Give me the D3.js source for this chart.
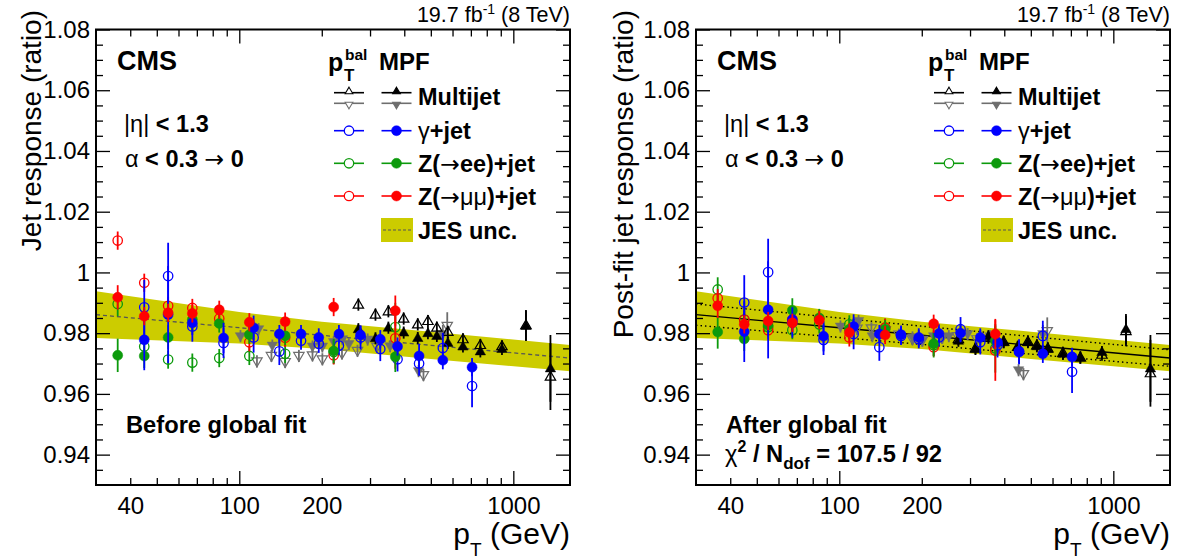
<!DOCTYPE html>
<html><head><meta charset="utf-8">
<script src="https://cdn.jsdelivr.net/npm/d3@7"></script>
<style>
body{margin:0;background:#fff}
svg{display:block;font-family:"Liberation Sans",Arial,Helvetica,sans-serif}
</style>
</head><body>
<svg id="c" width="1181" height="560"></svg>
<script>
// ---------------- x positions (GeV) ----------------
const ptGamma = [45, 55, 67.4, 87.6, 112.8, 140, 168, 195, 231, 277, 327, 378, 453, 553, 707];
const ptZ = [36, 45, 55, 67.4, 84.5, 108.8, 147, 221, 371];
const ptMJ = [272, 314, 350, 398, 448, 488, 526, 577, 655, 758, 909, 1112, 1366];
const ptMJ2Mpf = [101, 117.6, 132, 185, 201, 221, 238, 251, 294, 355, 451, 553];
const ptMJ2Bal = [116, 131, 147, 165, 185, 201, 237, 270, 318, 470, 574];

// ---------------- before global fit ----------------
const gammaMpfBefore = [0.9778, 0.9861, 0.9834, 0.9784, 0.9818, 0.9797, 0.9797, 0.9786, 0.9797, 0.9794, 0.9780, 0.9756, 0.9725, 0.9711, 0.9688];
const gammaBalBefore = [0.9885, 0.9988, 0.9822, 0.9768, 0.9786, 0.9740, 0.9775, 0.9765, 0.9759, 0.9786, 0.9748, 0.9714, 0.9700, 0.9751, 0.9626];
const zeeMpfBefore = [0.9727, 0.9725, 0.9786, 0.9845, 0.9832, 0.9795, 0.9791, 0.9741, 0.9722];
const zeeBalBefore = [0.9896, 0.9756, 0.9713, 0.9703, 0.9718, 0.9725, 0.9732, 0.9738, 0.9820];
const zmmMpfBefore = [0.9918, 0.9856, 0.9867, 0.9865, 0.9877, 0.9836, 0.9838, 0.9886, 0.9874];
const zmmBalBefore = [1.0105, 0.9966, 0.9890, 0.9883, 0.9848, 0.9770, 0.9785, 0.9727, 0.9783];
const mjMpfBefore = [0.9813, 0.9783, 0.9818, 0.9802, 0.9784, 0.9800, 0.9791, 0.9768, 0.9756, 0.9740, 0.9748, 0.9824, 0.9684];
const mjBalBefore = [0.9894, 0.9861, 0.9872, 0.9848, 0.9829, 0.9840, 0.9818, 0.9804, 0.9780, 0.9761, 0.9757, 0.9826, 0.9657];
const mj2MpfBefore = [0.9790, 0.9813, 0.9759, 0.9756, 0.9756, 0.9771, 0.9780, 0.9764, 0.9779, 0.9757, 0.9675, 0.9797];
const mj2BalBefore = [0.9707, 0.9725, 0.9705, 0.9725, 0.9727, 0.9714, 0.9733, 0.9742, 0.9755, 0.9662, 0.9824];

// ---------------- after global fit ----------------
const gammaMpfAfter = [0.9805, 0.9877, 0.9845, 0.9790, 0.9822, 0.9797, 0.9795, 0.9786, 0.9799, 0.9800, 0.9786, 0.9770, 0.9738, 0.9732, 0.9722];
const gammaBalAfter = [0.9901, 1.0001, 0.9835, 0.9778, 0.9797, 0.9754, 0.9791, 0.9780, 0.9786, 0.9813, 0.9770, 0.9760, 0.9740, 0.9791, 0.9673];
const zeeMpfAfter = [0.9804, 0.9781, 0.9826, 0.9875, 0.9850, 0.9813, 0.9813, 0.9765, 0.9775];
const zeeBalAfter = [0.9944, 0.9845, 0.9820, 0.9810, 0.9829, 0.9829, 0.9818, 0.9760, 0.9750];
const zmmMpfAfter = [0.9890, 0.9829, 0.9840, 0.9834, 0.9843, 0.9802, 0.9794, 0.9831, 0.9797];
const zmmBalAfter = [0.9915, 0.9845, 0.9810, 0.9845, 0.9848, 0.9786, 0.9818, 0.9754, 0.9743];
const mjMpfAfter = [0.9775, 0.9748, 0.9790, 0.9770, 0.9754, 0.9770, 0.9757, 0.9748, 0.9732, 0.9719, 0.9738, 0.9813, 0.9684];
const mjBalAfter = [0.9780, 0.9750, 0.9785, 0.9772, 0.9755, 0.9772, 0.9760, 0.9750, 0.9735, 0.9720, 0.9729, 0.9807, 0.9668];
const mj2MpfAfter = [0.9822, 0.9840, 0.9790, 0.9786, 0.9775, 0.9790, 0.9786, 0.9790, 0.9797, 0.9790, 0.9678, 0.9797];
const mj2BalAfter = [0.9815, 0.9816, 0.9810, 0.9795, 0.9780, 0.9778, 0.9785, 0.9790, 0.9780, 0.9665, 0.9807];

// ---------------- uncertainties ----------------
const gammaMpfErr = [0.010, 0.016, 0.004, 0.005, 0.004, 0.003, 0.003, 0.003, 0.003, 0.003, 0.003, 0.003, 0.004, 0.003, 0.003];
const gammaBalErr = [0.009, 0.011, 0.005, 0.005, 0.005, 0.0045, 0.003, 0.003, 0.003, 0.004, 0.004, 0.004, 0.004, 0.005, 0.007];
const zeeMpfErr = [0.0055, 0.004, 0.004, 0.004, 0.003, 0.003, 0.003, 0.004, 0.005];
const zeeBalErr = [0.004, 0.003, 0.003, 0.003, 0.003, 0.003, 0.003, 0.004, 0.008];
const zmmMpfErr = [0.004, 0.003, 0.003, 0.003, 0.003, 0.003, 0.003, 0.003, 0.005];
const zmmBalErr = [0.003, 0.003, 0.003, 0.003, 0.003, 0.003, 0.003, 0.003, 0.010];
const mjMpfErr = [0.002, 0.002, 0.002, 0.002, 0.002, 0.002, 0.002, 0.002, 0.002, 0.002, 0.002, 0.005, 0.011];
const mjBalErr = [0.002, 0.002, 0.002, 0.002, 0.002, 0.002, 0.002, 0.002, 0.002, 0.002, 0.002, 0.005, 0.011];
const mj2MpfErr = [0.002, 0.002, 0.002, 0.002, 0.002, 0.002, 0.002, 0.002, 0.002, 0.002, 0.002, 0.003];
const mj2BalErr = [0.002, 0.002, 0.002, 0.002, 0.002, 0.002, 0.002, 0.002, 0.002, 0.002, 0.0045];

// ---------------- JES uncertainty band / fit ----------------
const bandPt  = [30, 100, 200, 500, 1610];
const bandHi  = [0.9938, 0.9870, 0.9838, 0.9805, 0.9761];
const bandLo  = [0.9784, 0.9766, 0.9748, 0.9715, 0.9675];
const bandMid = [0.9861, 0.9818, 0.9793, 0.9760, 0.9718];
const fitHi   = [0.9896, 0.9850, 0.9823, 0.9789, 0.9745];
const fitLo   = [0.9826, 0.9786, 0.9763, 0.9731, 0.9691];

// ---------------- ticks ----------------
const yMajorTicks = [0.94, 0.96, 0.98, 1.00, 1.02, 1.04, 1.06, 1.08];
const yTickLabels = ["0.94", "0.96", "0.98", "1", "1.02", "1.04", "1.06", "1.08"];
const xLabelTicks = [40, 100, 200, 1000];
const xMajorTicks = [100, 1000];
const xMinorTicks = [40, 50, 60, 70, 80, 90, 200, 300, 400, 500, 600, 700, 800, 900];

// ---------------- colours ----------------
const cBlue = "#0000ff", cGreen = "#0c9a0c", cRed = "#ff0000", cBlack = "#000000", cGrey = "#6e6e6e", cBand = "#cccc00";

const svg = d3.select("#c");
const X0 = 96, X1 = 570, Y0 = 29.5, Y1 = 485;
const x = d3.scaleLog().domain([30, 1610]).range([X0, X1]);
const y = d3.scaleLinear().domain([0.93, 1.08]).range([Y1, Y0]);
const FONT = '"Liberation Sans",Arial,Helvetica,sans-serif';
const SYM = '"DejaVu Sans",sans-serif';

function markerPath(type){
  if(type === "up") return "M0,-5.4L5.2,3.5L-5.2,3.5Z";
  if(type === "down") return "M0,5.4L5.2,-3.5L-5.2,-3.5Z";
  return null;
}

function drawSeries(g, pts, vals, errs, color, type, filled){
  const data = pts.map((p,i)=>({p, v: vals[i], e: errs[i]}));
  const s = g.append("g");
  s.selectAll("line.err").data(data).join("line")
    .attr("x1", d=>x(d.p)).attr("x2", d=>x(d.p))
    .attr("y1", d=>y(d.v - d.e)).attr("y2", d=>y(d.v + d.e))
    .attr("stroke", color).attr("stroke-width", 1.8);
  if(type === "circle"){
    s.selectAll("circle").data(data).join("circle")
      .attr("cx", d=>x(d.p)).attr("cy", d=>y(d.v)).attr("r", filled ? 5 : 4.7)
      .attr("fill", filled ? color : "none")
      .attr("stroke", color).attr("stroke-width", filled ? 0.5 : 1.3);
  } else {
    s.selectAll("path").data(data).join("path")
      .attr("transform", d=>`translate(${x(d.p)},${y(d.v)})`)
      .attr("d", markerPath(type))
      .attr("fill", filled ? color : "none")
      .attr("stroke", color).attr("stroke-width", filled ? 0.5 : 1.2);
  }
}

function drawPanel(offset, panel){
  const g = svg.append("g").attr("transform", `translate(${offset},0)`);
  const bandData = bandPt.map((p,i)=>({p, hi: bandHi[i], lo: bandLo[i], mid: bandMid[i], fh: fitHi[i], fl: fitLo[i]}));
  const clip = "clip" + offset;
  g.append("clipPath").attr("id", clip).append("rect").attr("x", X0).attr("y", Y0).attr("width", X1-X0).attr("height", Y1-Y0);
  const pg = g.append("g").attr("clip-path", `url(#${clip})`);
  pg.append("path").datum(bandData)
    .attr("d", d3.area().x(d=>x(d.p)).y0(d=>y(d.lo)).y1(d=>y(d.hi)))
    .attr("fill", cBand);
  if(panel.after){
    pg.append("path").datum(bandData).attr("d", d3.line().x(d=>x(d.p)).y(d=>y(d.mid)))
      .attr("fill","none").attr("stroke","#000").attr("stroke-width",1.4);
    ["fh","fl"].forEach(k=>{
      pg.append("path").datum(bandData).attr("d", d3.line().x(d=>x(d.p)).y(d=>y(d[k])))
        .attr("fill","none").attr("stroke","#000").attr("stroke-width",1.4).attr("stroke-dasharray","1.5,3");
    });
  } else {
    pg.append("path").datum(bandData).attr("d", d3.line().x(d=>x(d.p)).y(d=>y(d.mid)))
      .attr("fill","none").attr("stroke","#555").attr("stroke-width",1.3).attr("stroke-dasharray","4,3");
  }
  // data points
  drawSeries(pg, ptMJ2Bal, panel.mj2Bal, mj2BalErr, cGrey, "down", false);
  drawSeries(pg, ptMJ2Mpf, panel.mj2Mpf, mj2MpfErr, cGrey, "down", true);
  drawSeries(pg, ptMJ, panel.mjBal, mjBalErr, cBlack, "up", false);
  drawSeries(pg, ptMJ, panel.mjMpf, mjMpfErr, cBlack, "up", true);
  drawSeries(pg, ptZ, panel.zeeBal, zeeBalErr, cGreen, "circle", false);
  drawSeries(pg, ptZ, panel.zmmBal, zmmBalErr, cRed, "circle", false);
  drawSeries(pg, ptGamma, panel.gBal, gammaBalErr, cBlue, "circle", false);
  drawSeries(pg, ptZ, panel.zeeMpf, zeeMpfErr, cGreen, "circle", true);
  drawSeries(pg, ptGamma, panel.gMpf, gammaMpfErr, cBlue, "circle", true);
  drawSeries(pg, ptZ, panel.zmmMpf, zmmMpfErr, cRed, "circle", true);

  // axes
  const styleAxis = a => { a.select(".domain").remove(); a.selectAll("line").attr("stroke","#000").attr("stroke-width",1.3); a.selectAll("text").attr("font-family", FONT).attr("font-size", 24).attr("fill","#000"); };
  const yMinor = d3.range(0, 31).map(i => 0.93 + i*0.005).filter(v => !yMajorTicks.some(m => Math.abs(m - v) < 1e-6) && v > 0.931 && v < 1.079);
  g.append("g").attr("transform",`translate(0,${Y1})`).call(d3.axisBottom(x).tickValues(xMajorTicks).tickSize(-14).tickFormat("")).call(styleAxis);
  g.append("g").attr("transform",`translate(0,${Y1})`).call(d3.axisBottom(x).tickValues(xMinorTicks).tickSize(-7).tickFormat("")).call(styleAxis);
  g.append("g").attr("transform",`translate(0,${Y1})`).call(d3.axisBottom(x).tickValues(xLabelTicks).tickSize(0).tickPadding(12).tickFormat(d3.format("d"))).call(styleAxis);
  g.append("g").attr("transform",`translate(0,${Y0})`).call(d3.axisTop(x).tickValues(xMajorTicks).tickSize(-14).tickFormat("")).call(styleAxis);
  g.append("g").attr("transform",`translate(0,${Y0})`).call(d3.axisTop(x).tickValues(xMinorTicks).tickSize(-7).tickFormat("")).call(styleAxis);
  g.append("g").attr("transform",`translate(${X0},0)`).call(d3.axisLeft(y).tickValues(yMajorTicks).tickSize(-14).tickPadding(6).tickFormat((d,i)=>yTickLabels[i])).call(styleAxis);
  g.append("g").attr("transform",`translate(${X0},0)`).call(d3.axisLeft(y).tickValues(yMinor).tickSize(-7).tickFormat("")).call(styleAxis);
  g.append("g").attr("transform",`translate(${X1},0)`).call(d3.axisRight(y).tickValues(yMajorTicks).tickSize(-14).tickFormat("")).call(styleAxis);
  g.append("g").attr("transform",`translate(${X1},0)`).call(d3.axisRight(y).tickValues(yMinor).tickSize(-7).tickFormat("")).call(styleAxis);
  g.append("rect").attr("x",X0).attr("y",Y0).attr("width",X1-X0).attr("height",Y1-Y0)
    .attr("fill","none").attr("stroke","#000").attr("stroke-width",2);

  // axis titles
  g.append("text").attr("transform", `translate(${panel.yTitleX},10) rotate(-90)`)
    .attr("text-anchor","end").attr("font-size",28).attr("fill","#000").text(panel.yTitle);
  const xt = g.append("text").attr("x", X1).attr("y", 544).attr("text-anchor","end").attr("font-size",30).attr("fill","#000");
  xt.append("tspan").text("p");
  xt.append("tspan").attr("font-size",19).attr("dy",12).text("T");
  xt.append("tspan").attr("dy",-12).text(" (GeV)");

  // lumi
  const lt = g.append("text").attr("x", X1).attr("y", 22).attr("text-anchor","end").attr("font-size",21.5).attr("fill","#000");
  lt.append("tspan").text("19.7 fb");
  lt.append("tspan").attr("font-size",14).attr("dy",-8).text("-1");
  lt.append("tspan").attr("dy",8).text(" (8 TeV)");

  // CMS and cuts
  g.append("text").attr("x",117).attr("y",70).attr("font-size",27).attr("font-weight","bold").text("CMS");
  const e1 = g.append("text").attr("x",124).attr("y",132).attr("font-size",23.5).attr("font-weight","bold");
  e1.append("tspan").attr("font-weight","normal").text("|η|");
  e1.append("tspan").text(" < 1.3");
  const e2 = g.append("text").attr("x",125).attr("y",167).attr("font-size",23.5).attr("font-weight","bold");
  e2.append("tspan").attr("font-weight","normal").text("α");
  e2.append("tspan").text(" < 0.3 ");
  e2.append("tspan").attr("font-weight","normal").attr("font-family",SYM).text("→");
  e2.append("tspan").text(" 0");

  g.append("text").attr("x",126).attr("y",433).attr("font-size",23.7).attr("font-weight","bold").text(panel.fitLabel);
  if(panel.after){
    const c = g.append("text").attr("x",125).attr("y",462).attr("font-size",23.7).attr("font-weight","bold");
    c.append("tspan").attr("font-weight","normal").text("χ");
    c.append("tspan").attr("font-size",16).attr("dy",-10).text("2");
    c.append("tspan").attr("dy",10).text(" / N");
    c.append("tspan").attr("font-size",17).attr("dy",7).text("dof");
    c.append("tspan").attr("dy",-7).text(" = 107.5 / 92");
  }

  // legend
  const L = g.append("g");
  L.append("text").attr("x",328).attr("y",71).attr("font-size",25).attr("font-weight","bold").text("p");
  L.append("text").attr("x",345).attr("y",60).attr("font-size",15.5).attr("font-weight","bold").text("bal");
  L.append("text").attr("x",344).attr("y",81).attr("font-size",17).attr("font-weight","bold").text("T");
  L.append("text").attr("x",379).attr("y",70).attr("font-size",24).attr("font-weight","bold").text("MPF");
  const colB = 349, colM = 396.5, hw = 15;
  function legLine(cx, cy, color){ L.append("line").attr("x1",cx-hw).attr("x2",cx+hw).attr("y1",cy).attr("y2",cy).attr("stroke",color).attr("stroke-width",1.6); }
  function legTri(cx, cy, color, up, filled){
    L.append("path").attr("transform",`translate(${cx},${cy + (up? -1.5 : 1.5)}) scale(0.75)`).attr("d", markerPath(up?"up":"down"))
      .attr("fill", filled ? color : "#fff").attr("stroke", color).attr("stroke-width",1.4);
  }
  function legCirc(cx, cy, color, filled){
    L.append("circle").attr("cx",cx).attr("cy",cy).attr("r",filled?5:4.7).attr("fill",filled?color:"#fff").attr("stroke",color).attr("stroke-width",filled?0.5:1.3);
  }
  legLine(colB, 92.7, cBlack); legLine(colB, 103.3, cGrey); legLine(colM, 92.7, cBlack); legLine(colM, 103.3, cGrey);
  legTri(colB, 92.7, cBlack, true, false); legTri(colB, 103.3, cGrey, false, false);
  legTri(colM, 92.7, cBlack, true, true); legTri(colM, 103.3, cGrey, false, true);
  const rows = [{y:130.7, c:cBlue}, {y:163.3, c:cGreen}, {y:196, c:cRed}];
  rows.forEach(r=>{ legLine(colB, r.y, r.c); legLine(colM, r.y, r.c); legCirc(colB, r.y, r.c, false); legCirc(colM, r.y, r.c, true); });
  L.append("rect").attr("x",381).attr("y",218).attr("width",32).attr("height",24).attr("fill",cBand);
  L.append("line").attr("x1",383).attr("x2",411).attr("y1",230).attr("y2",230).attr("stroke","#555").attr("stroke-width",1.2).attr("stroke-dasharray","3,2");
  const tx = 418, fs = 23.5;
  L.append("text").attr("x",tx).attr("y",105).attr("font-size",fs).attr("font-weight","bold").text("Multijet");
  const t1 = L.append("text").attr("x",tx).attr("y",139).attr("font-size",fs).attr("font-weight","bold");
  t1.append("tspan").attr("font-weight","normal").text("γ"); t1.append("tspan").text("+jet");
  const t2 = L.append("text").attr("x",tx).attr("y",171.5).attr("font-size",fs).attr("font-weight","bold");
  t2.append("tspan").text("Z("); t2.append("tspan").attr("font-weight","normal").attr("font-family",SYM).text("→"); t2.append("tspan").text("ee)+jet");
  const t3 = L.append("text").attr("x",tx).attr("y",204.5).attr("font-size",fs).attr("font-weight","bold");
  t3.append("tspan").text("Z("); t3.append("tspan").attr("font-weight","normal").attr("font-family",SYM).text("→");
  t3.append("tspan").attr("font-weight","normal").text("μμ"); t3.append("tspan").text(")+jet");
  L.append("text").attr("x",tx).attr("y",238.5).attr("font-size",fs).attr("font-weight","bold").text("JES unc.");
}

drawPanel(0, {after:false, yTitle:"Jet response (ratio)", yTitleX:41, fitLabel:"Before global fit",
  gMpf:gammaMpfBefore, gBal:gammaBalBefore, zeeMpf:zeeMpfBefore, zeeBal:zeeBalBefore, zmmMpf:zmmMpfBefore, zmmBal:zmmBalBefore,
  mjMpf:mjMpfBefore, mjBal:mjBalBefore, mj2Mpf:mj2MpfBefore, mj2Bal:mj2BalBefore});
drawPanel(600, {after:true, yTitle:"Post-fit jet response (ratio)", yTitleX:33, fitLabel:"After global fit",
  gMpf:gammaMpfAfter, gBal:gammaBalAfter, zeeMpf:zeeMpfAfter, zeeBal:zeeBalAfter, zmmMpf:zmmMpfAfter, zmmBal:zmmBalAfter,
  mjMpf:mjMpfAfter, mjBal:mjBalAfter, mj2Mpf:mj2MpfAfter, mj2Bal:mj2BalAfter});
</script>
</body></html>
